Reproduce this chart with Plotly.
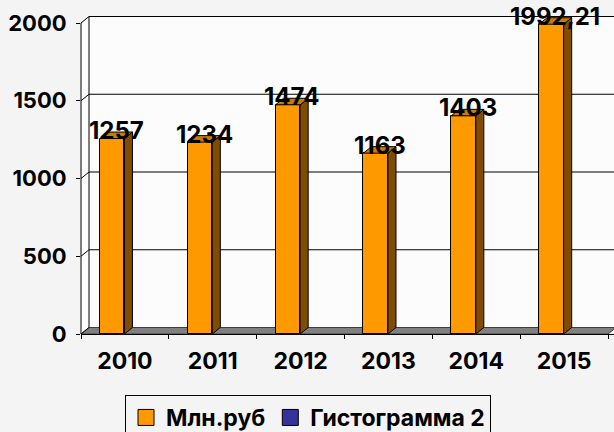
import plotly.graph_objects as go

# ---------------- data ----------------
years = ["2010", "2011", "2012", "2013", "2014", "2015"]
values = [1257, 1234, 1474, 1163, 1403, 1992.21]
value_labels = ["1257", "1234", "1474", "1163", "1403", "1992,21"]
series2_values = [None, None, None, None, None, None]
series_names = ["Млн.руб", "Гистограмма 2"]
y_ticks = [0, 500, 1000, 1500, 2000]

# ---------------- geometry / style ----------------
W, H = 614, 432
ML, MR, MT, MB = 81, 0, 15, 98
plot_w = W - ML - MR
plot_h = H - MT - MB
PX_PER_CAT = 87.84
PX_PER_UNIT = 0.1555
x_range = [-0.5, -0.5 + plot_w / PX_PER_CAT]
y_range = [0, plot_h / PX_PER_UNIT]
DX = 8 / PX_PER_CAT          # depth offset, category units
DY = 6.5 / PX_PER_UNIT       # depth offset, value units
BAR_W = 0.28
BAR_OFF = -0.285

FRONT = "#FF9900"
SIDE = "#7F4C00"
TOP = "#CC7A00"
NAVY = "#333399"
BG = "#F4F4F4"
WALL = "#FCFCFC"
FONT = "Inter, Liberation Sans, Arial, sans-serif"

n = len(years)
x_first, x_last = -0.5, n - 0.5
y_top = max(y_ticks)

fig = go.Figure()

fig.add_trace(go.Bar(
    x=years, y=values, width=BAR_W, offset=BAR_OFF,
    marker=dict(color=FRONT, line=dict(color="black", width=1)),
    showlegend=False, hoverinfo="skip",
))
fig.add_trace(go.Bar(
    x=years, y=series2_values, width=BAR_W, offset=BAR_OFF,
    marker=dict(color=NAVY), showlegend=False, hoverinfo="skip",
))
# legend proxies
for name, col in zip(series_names, [FRONT, NAVY]):
    fig.add_trace(go.Scatter(
        x=[None], y=[None], mode="markers", name=name,
        marker=dict(symbol="square", size=16, color=col,
                    line=dict(color="black", width=1)),
    ))

shapes = []
def P(pts):
    return "M " + " L ".join(f"{x},{y}" for x, y in pts) + " Z"

# back wall
shapes.append(dict(type="path", xref="x", yref="y", layer="below",
                   path=P([(x_first + DX, DY), (x_range[1] + 1, DY),
                           (x_range[1] + 1, y_top + DY), (x_first + DX, y_top + DY)]),
                   fillcolor=WALL, line=dict(width=0)))
# left side wall
shapes.append(dict(type="path", xref="x", yref="y", layer="below",
                   path=P([(x_first, 0), (x_first + DX, DY),
                           (x_first + DX, y_top + DY), (x_first, y_top)]),
                   fillcolor=WALL, line=dict(width=0)))
# floor
shapes.append(dict(type="path", xref="x", yref="y", layer="below",
                   path=P([(x_first, 0), (x_last, 0), (x_last + DX, DY), (x_first + DX, DY)]),
                   fillcolor="#808080", line=dict(color="#404040", width=1)))
# back wall gridlines + diagonal connectors
for v in y_ticks:
    if v > 0:
        shapes.append(dict(type="line", xref="x", yref="y", layer="below",
                           x0=x_first + DX, x1=x_range[1] + 1, y0=v + DY, y1=v + DY,
                           line=dict(color="black", width=1)))
    shapes.append(dict(type="line", xref="x", yref="y", layer="below",
                       x0=x_first, x1=x_first + DX, y0=v, y1=v + DY,
                       line=dict(color="black", width=1)))
# back-wall left edge
shapes.append(dict(type="line", xref="x", yref="y", layer="below",
                   x0=x_first + DX, x1=x_first + DX, y0=DY, y1=y_top + DY,
                   line=dict(color="black", width=1)))
# front vertical axis line
shapes.append(dict(type="line", xref="paper", yref="y", layer="above",
                   x0=0, x1=0, y0=0, y1=y_top, line=dict(color="black", width=1)))

# 3D side and top faces of bars
for i, v in enumerate(values):
    xl = i + BAR_OFF
    xr = xl + BAR_W
    shapes.append(dict(type="path", xref="x", yref="y", layer="above",
                       path=P([(xr, 0), (xr, v), (xr + DX, v + DY), (xr + DX, DY)]),
                       fillcolor=SIDE, line=dict(color="black", width=1)))
    shapes.append(dict(type="path", xref="x", yref="y", layer="above",
                       path=P([(xl, v), (xr, v), (xr + DX, v + DY), (xl + DX, v + DY)]),
                       fillcolor=TOP, line=dict(color="black", width=1)))

annotations = []
for i, (v, t) in enumerate(zip(values, value_labels)):
    annotations.append(dict(
        xref="x", yref="y", x=i + BAR_OFF + (BAR_W + DX) / 2, y=v,
        text=t, showarrow=False, yanchor="middle", xanchor="center", yshift=8,
        font=dict(family=FONT, size=24, color="black", weight="bold"),
    ))

fig.update_layout(
    width=W, height=H,
    margin=dict(l=ML, r=MR, t=MT, b=MB, autoexpand=False),
    paper_bgcolor=BG, plot_bgcolor=BG,
    shapes=shapes, annotations=annotations,
    showlegend=True,
    legend=dict(
        orientation="h", xref="container", yref="container",
        x=125 / W, y=1 - 395 / H, xanchor="left", yanchor="top",
        bgcolor=BG, bordercolor="black", borderwidth=1,
        font=dict(family=FONT, size=23, color="black", weight="bold"),
        itemclick=False, itemdoubleclick=False,
    ),
    xaxis=dict(
        type="category", range=x_range, tickson="boundaries",
        ticks="outside", ticklen=4, tickcolor="black", tickwidth=1,
        showline=True, linecolor="black", linewidth=1,
        showgrid=False, zeroline=False, ticklabelstandoff=6,
        tickfont=dict(family=FONT, size=23, color="black", weight="bold"),
        fixedrange=True,
    ),
    yaxis=dict(
        range=y_range, tickvals=y_ticks,
        ticks="outside", ticklen=4, tickcolor="black", tickwidth=1,
        showline=False, showgrid=False, zeroline=False, ticklabelstandoff=5,
        tickfont=dict(family=FONT, size=22, color="black", weight="bold"),
        fixedrange=True,
    ),
    bargap=0,
)

fig.write_html("out.html", config={"displayModeBar": False},
               post_script="document.body.style.margin='0';")
